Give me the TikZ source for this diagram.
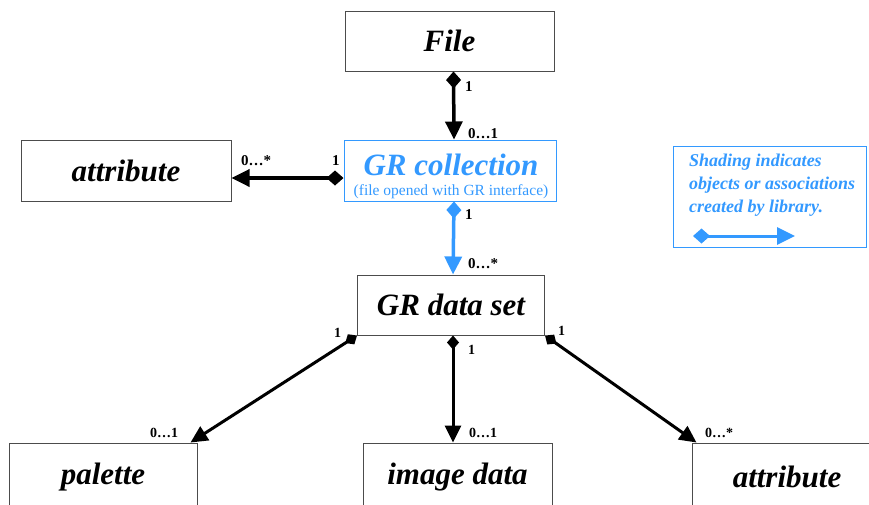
\documentclass[tikz,border=0pt]{standalone}
\usepackage{fontspec}
\setmainfont{Liberation Serif}
\usepackage{tikz}
\usetikzlibrary{arrows.meta}
\definecolor{grblue}{RGB}{51,153,255}

\begin{document}
\begin{tikzpicture}[x=1pt,y=-1pt,
    box/.style={draw=black!70,line width=1pt,inner sep=0pt,
      font=\fontsize{31}{36}\selectfont\bfseries\itshape},
    mult/.style={anchor=base west,inner sep=0pt,font=\fontsize{15}{18}\selectfont\bfseries},
    smallmult/.style={mult,font=\fontsize{14}{16}\selectfont\bfseries},
    assoc/.style={line width=3.5pt,{Diamond[length=17pt,width=15pt]}-{Triangle[length=18pt,width=17pt]}},
    subassoc/.style={line width=3pt,{Diamond[length=14pt,width=12pt]}-{Triangle[length=17pt,width=16pt]}}]
  \useasboundingbox (0,0) rectangle (869,504);
  \clip (0,0) rectangle (869,504);
  % classes
  \node[box,minimum width=209pt,minimum height=60pt] (file) at (449.5,41) {File};
  \node[box,minimum width=210pt,minimum height=61pt] (attrL) at (126,170.5) {attribute};
  \node[box,draw=grblue,minimum width=212pt,minimum height=61pt] (grcoll) at (450,170.5) {};
  \node[anchor=base,inner sep=0pt,text=grblue,font=\fontsize{31}{36}\selectfont\bfseries\itshape] (grtitle) at (451,175) {GR collection};
  \node[anchor=base,inner sep=0pt,text=grblue,font=\fontsize{15.5}{18}\selectfont] (grsub) at (451,195) {(file opened with GR interface)};
  \node[box,minimum width=187pt,minimum height=60pt] (grds) at (451,305) {GR data set};
  \node[box,minimum width=188pt,minimum height=68pt] (palette) at (103,477) {palette};
  \node[box,minimum width=189pt,minimum height=68pt] (image) at (457.5,477) {image data};
  \node[box,minimum width=190pt,minimum height=68pt] (attrR) at (787,477) {attribute};
  % legend
  \node[draw=grblue,line width=1pt,minimum width=193pt,minimum height=101pt] (legend) at (769.5,196.5) {};
  \node[anchor=base west,inner sep=0pt,align=left,text=grblue,
    font=\fontsize{18}{23}\selectfont\bfseries\itshape] (legtext) at (689,212)
    {Shading indicates\\objects or associations\\created by library.};
  \coordinate (legA) at (693,236);
  \coordinate (legB) at (795,236);
  \draw[assoc,grblue,line width=3pt] (legA) -- (legB);
  % associations
  \draw[assoc] ([xshift=4pt]file.south) -- ([xshift=4pt]grcoll.north);
  \draw[assoc] ([yshift=-7.5pt]grcoll.west) -- ([yshift=-7.5pt]attrL.east);
  \draw[assoc,grblue] ([xshift=4pt]grcoll.south) -- ([xshift=2pt]grds.north);
  \draw[subassoc] (grds.south west) -- ([xshift=-7pt]palette.north east);
  \draw[subassoc] ([xshift=2pt]grds.south) -- ([xshift=-4.5pt]image.north);
  \draw[subassoc] (grds.south east) -- ([xshift=5pt]attrR.north west);
  % multiplicities
  \node[mult] (m1) at (465,91) {1};
  \node[mult] (m2) at (468,138) {0…1};
  \node[mult] (m3) at (332,165) {1};
  \node[mult] (m4) at (241,165) {0…*};
  \node[mult] (m5) at (465,219) {1};
  \node[mult] (m6) at (468,268) {0…*};
  \node[smallmult] (m7) at (334,337) {1};
  \node[smallmult] (m8) at (150,437) {0…1};
  \node[smallmult] (m9) at (468,354) {1};
  \node[smallmult] (m10) at (469,437) {0…1};
  \node[smallmult] (m11) at (558,335) {1};
  \node[smallmult] (m12) at (705,437) {0…*};
\end{tikzpicture}
\end{document}
